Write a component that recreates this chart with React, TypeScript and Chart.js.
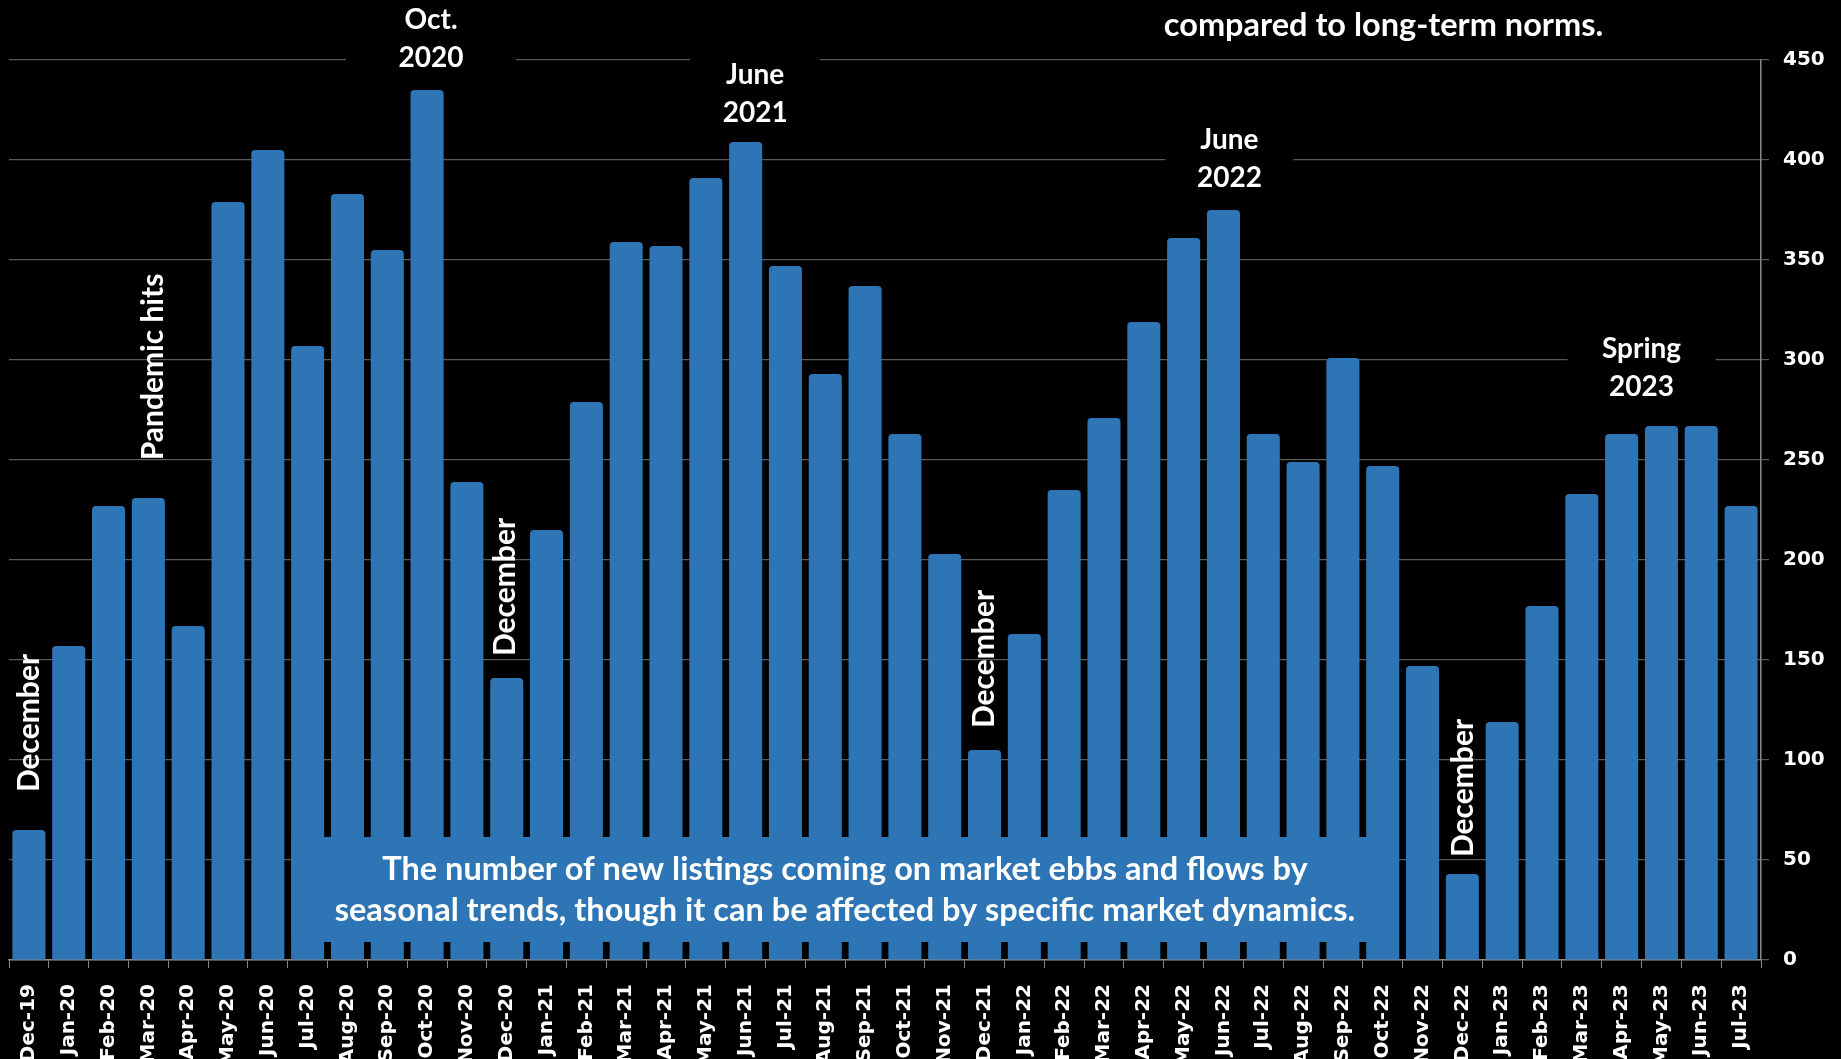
import React, { useEffect, useRef } from "react";
import { Chart, registerables } from "chart.js";

Chart.register(...registerables);

const months: string[] = [
  "Dec-19",
  "Jan-20", "Feb-20", "Mar-20", "Apr-20", "May-20", "Jun-20", "Jul-20", "Aug-20", "Sep-20", "Oct-20", "Nov-20", "Dec-20",
  "Jan-21", "Feb-21", "Mar-21", "Apr-21", "May-21", "Jun-21", "Jul-21", "Aug-21", "Sep-21", "Oct-21", "Nov-21", "Dec-21",
  "Jan-22", "Feb-22", "Mar-22", "Apr-22", "May-22", "Jun-22", "Jul-22", "Aug-22", "Sep-22", "Oct-22", "Nov-22", "Dec-22",
  "Jan-23", "Feb-23", "Mar-23", "Apr-23", "May-23", "Jun-23", "Jul-23",
];

const newListings: number[] = [
  65,
  157, 227, 231, 167, 379, 405, 307, 383, 355, 435, 239, 141,
  215, 279, 359, 357, 391, 409, 347, 293, 337, 263, 203, 105,
  163, 235, 271, 319, 361, 375, 263, 249, 301, 247, 147, 43,
  119, 177, 233, 263, 267, 267, 227,
];

const yTickMin = 0;
const yTickMax = 450;
const yTickStep = 50;

const topNote = "compared to long-term norms.";
const boxNoteLines = [
  "The number of new listings coming on market ebbs and flows by",
  "seasonal trends, though it can be affected by specific market dynamics.",
];

// stacked labels with black backing (x = category index, y = value at block centre)
const stackedLabels = [
  { lines: ["Oct.", "2020"], x: 10.1, y: 460.6, boxHalf: 85 },
  { lines: ["June", "2021"], x: 18.24, y: 433.25, boxHalf: 65 },
  { lines: ["June", "2022"], x: 30.15, y: 400.75, boxHalf: 64 },
  { lines: ["Spring", "2023"], x: 40.5, y: 296.25, boxHalf: 74 },
];

// vertical labels (x = category index, y = value at text centre)
const verticalLabels = [
  { text: "December", x: 0.0, y: 118.5 },
  { text: "Pandemic hits", x: 3.12, y: 296.5 },
  { text: "December", x: 11.96, y: 186.5 },
  { text: "December", x: 24.0, y: 150.5 },
  { text: "December", x: 36.03, y: 86 },
];

const BAR_COLOR = "#2E75B6";
const FAMILY = "Lato, 'Open Sans', sans-serif";
const STACK_FONT = `bold 28px ${FAMILY}`;
const VERT_FONT = `bold 30px ${FAMILY}`;
const NOTE_FONT = `bold 32.5px ${FAMILY}`;
const LINE_H = 38;

const annotPlugin = {
  id: "annots",
  beforeDatasetsDraw(chart: any) {
    const ctx = chart.ctx;
    const xs = chart.scales.x;
    const ys = chart.scales.y;
    ctx.save();
    ctx.fillStyle = "#000";
    for (const a of stackedLabels) {
      const cx = xs.getPixelForValue(a.x);
      const cy = ys.getPixelForValue(a.y);
      const h = a.lines.length * LINE_H + 8;
      ctx.fillRect(cx - a.boxHalf, cy - h / 2, a.boxHalf * 2, h);
    }
    ctx.restore();
  },
  afterDatasetsDraw(chart: any) {
    const ctx = chart.ctx;
    const xs = chart.scales.x;
    const ys = chart.scales.y;
    ctx.save();
    ctx.fillStyle = "#fff";
    ctx.textAlign = "center";
    ctx.textBaseline = "middle";
    ctx.font = STACK_FONT;
    for (const a of stackedLabels) {
      const cx = xs.getPixelForValue(a.x);
      const cy = ys.getPixelForValue(a.y);
      const n = a.lines.length;
      a.lines.forEach((t, i) => {
        ctx.fillText(t, cx, cy + (i - (n - 1) / 2) * LINE_H);
      });
    }
    ctx.font = VERT_FONT;
    for (const v of verticalLabels) {
      const cx = xs.getPixelForValue(v.x);
      const cy = ys.getPixelForValue(v.y);
      ctx.save();
      ctx.translate(cx, cy);
      ctx.rotate(-Math.PI / 2);
      ctx.fillText(v.text, 0, 0);
      ctx.restore();
    }
    ctx.font = NOTE_FONT;
    // top note
    ctx.fillText(topNote, xs.getPixelForValue(34.02), ys.getPixelForValue(467));

    // blue note box
    const bx0 = xs.getPixelForValue(6.59);
    const bx1 = xs.getPixelForValue(34.4);
    const by0 = ys.getPixelForValue(61.5);
    const by1 = ys.getPixelForValue(9);
    ctx.fillStyle = BAR_COLOR;
    ctx.fillRect(bx0, by0, bx1 - bx0, by1 - by0);
    ctx.fillStyle = "#fff";
    const bcx = (bx0 + bx1) / 2;
    ctx.fillText(boxNoteLines[0], bcx, ys.getPixelForValue(45));
    ctx.fillText(boxNoteLines[1], bcx, ys.getPixelForValue(24.5));
    ctx.restore();
  },
};

export default function App() {
  const ref = useRef<HTMLCanvasElement | null>(null);
  useEffect(() => {
    document.body.style.margin = "0";
    document.body.style.background = "#000";
    const canvas = ref.current;
    if (!canvas) return;
    const chart = new Chart(canvas, {
      type: "bar",
      data: {
        labels: months,
        datasets: [
          {
            data: newListings,
            backgroundColor: BAR_COLOR,
            borderRadius: { topLeft: 4, topRight: 4, bottomLeft: 0, bottomRight: 0 },
            borderSkipped: "bottom",
            barPercentage: 0.83,
            categoryPercentage: 1,
          },
        ],
      },
      options: {
        responsive: false,
        animation: false,
        devicePixelRatio: 1,
        layout: { padding: { left: 9, top: 60, right: 0, bottom: 0 } },
        plugins: { legend: { display: false }, tooltip: { enabled: false }, title: { display: false } },
        scales: {
          x: {
            grid: { display: true, drawOnChartArea: false, drawTicks: true, tickLength: 8, color: "#8a8a8a", offset: true },
            border: { display: true, color: "#8a8a8a", width: 1.5 },
            ticks: {
              color: "#fff",
              autoSkip: false,
              maxRotation: 90,
              minRotation: 90,
              padding: 16,
              font: { family: "'DejaVu Sans'", weight: "bold", size: 20 },
            },
            afterFit(scale: any) {
              scale.height = 99;
              scale.paddingLeft = 0;
              scale.paddingRight = 0;
            },
          },
          y: {
            position: "right",
            min: yTickMin,
            max: yTickMax,
            grid: { color: "#5a5a5a", lineWidth: 1.2, tickLength: 8, drawTicks: true },
            border: { display: true, color: "#8a8a8a", width: 1.5 },
            ticks: {
              stepSize: yTickStep,
              color: "#fff",
              padding: 14,
              font: { family: "'DejaVu Sans'", weight: "bold", size: 20 },
            },
            afterFit(scale: any) {
              scale.width = 80;
            },
          },
        },
      },
      plugins: [annotPlugin],
    });
    return () => chart.destroy();
  }, []);
  return (
    <div style={{ width: 1841, height: 1059, background: "#000", overflow: "hidden" }}>
      <canvas ref={ref} width={1841} height={1059} style={{ display: "block" }} />
    </div>
  );
}
